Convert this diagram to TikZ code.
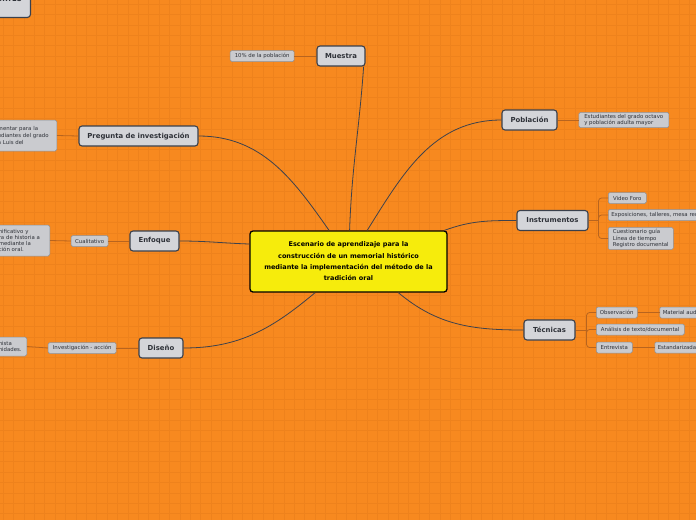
\documentclass[tikz,border=0pt]{standalone}
\usepackage{fontspec}
\setmainfont{DejaVu Sans}
\usepackage{tikz}
\usetikzlibrary{positioning, calc}
\definecolor{bgorange}{HTML}{F7891F}
\definecolor{gridorange}{HTML}{EE821C}
\definecolor{topicyellow}{HTML}{F6EC0C}
\definecolor{ink}{HTML}{2E3138}
\definecolor{navydk}{HTML}{3A404C}
\definecolor{nodegray}{HTML}{D4D5D9}
\definecolor{subgray}{HTML}{CACBCF}
\definecolor{subline}{HTML}{8E9096}
\definecolor{branchgray}{HTML}{3E424C}
\definecolor{twigbrown}{HTML}{B8641E}
\tikzset{
  topic/.style={rounded corners=3pt, draw=black, line width=1.3pt,
    fill=topicyellow, text=black, font=\bfseries\fontsize{6.5}{11.3}\selectfont,
    align=center, minimum width=197pt, minimum height=61pt},
  mainnd/.style={rounded corners=3pt, draw=navydk, line width=1.1pt,
    fill=nodegray, text=ink, font=\bfseries\fontsize{6.9}{8}\selectfont,
    minimum height=20pt, inner xsep=2pt},
  subnd/.style={rounded corners=1.5pt, draw=subline, line width=0.5pt,
    fill=subgray, text=ink, font=\fontsize{5.4}{6.8}\selectfont,
    align=left, minimum height=11pt, inner xsep=3pt, inner ysep=1.6pt},
  branch/.style={line width=0.8pt, color=branchgray},
  twig/.style={line width=0.8pt, color=twigbrown},
}

\begin{document}
\begin{tikzpicture}[x=1pt, y=-1pt]
  \useasboundingbox (0,0) rectangle (696,520);
  \clip (0,0) rectangle (696,520);
  \fill[bgorange] (0,0) rectangle (696,520);
  \foreach \gx in {3,13.4,...,696} \draw[gridorange, line width=0.45pt] (\gx,0) -- (\gx,520);
  \foreach \gy in {4,14.4,...,520} \draw[gridorange, line width=0.45pt] (0,\gy) -- (696,\gy);

  % central topic
  \node[topic] (topic) at (348.5,261.5) {Escenario de aprendizaje para la\\
    construcción de un memorial histórico\\
    mediante la implementación del método de la\\
    tradición oral};

  % main branches
  \node[mainnd, minimum width=48pt] (muestra) at (341,56) {Muestra};
  \node[mainnd, minimum width=119pt] (pregunta) at (138.5,136) {Pregunta de investigación};
  \node[mainnd, minimum width=49pt] (enfoque) at (154.5,241) {Enfoque};
  \node[mainnd, minimum width=44pt] (diseno) at (161,348) {Diseño};
  \node[mainnd, minimum width=55pt] (poblacion) at (529.5,120) {Población};
  \node[mainnd, minimum width=71pt] (instrumentos) at (552.5,220.5) {Instrumentos};
  \node[mainnd, minimum width=51pt] (tecnicas) at (549.5,330) {Técnicas};
  \node[mainnd, minimum width=53pt, minimum height=36pt, anchor=south east] (aportes) at (31,18) {APORTES};

  % sub topics
  \node[subnd, minimum width=64pt, left=22pt of muestra] (pct) {10\% de la población};
  \node[subnd, anchor=east, text width=56pt, minimum height=31pt] (preg-note) at (57,135.5)
    {mentar para la\\ udiantes del grado\\ n Luis del};
  \node[subnd, minimum width=37pt, left=21pt of enfoque] (cualit) {Cualitativo};
  \node[subnd, anchor=east, text width=48pt, minimum height=31pt,
    font=\fontsize{5.4}{5.9}\selectfont] (enf-note) at (50,240.5)
    {nificativo y\\ ra de historia a\\ mediante la\\ ción oral.};
  \node[subnd, minimum width=68pt, left=22pt of diseno] (invac) {Investigación - acción};
  \node[subnd, anchor=east, text width=26pt, minimum height=19pt, inner xsep=2pt] (dis-note) at (27,346.5)
    {nista\\ nidades.};
  \node[subnd, minimum width=90pt, right=21pt of poblacion] (estud)
    {Estudiantes del grado octavo\\ y población adulta mayor};
  \node[subnd, minimum width=38pt, anchor=west] (video) at (608,198) {Video Foro};
  \node[subnd, anchor=west] (expos) at (608,215) {Exposiciones, talleres, mesa redonda};
  \node[subnd, minimum width=65pt, anchor=west] (cuest) at (608,238.5)
    {Cuestionario guía\\ Línea de tiempo\\ Registro documental};
  \node[subnd, minimum width=41pt, anchor=west] (obs) at (596,312.5) {Observación};
  \node[subnd, anchor=west, right=22pt of obs] (material) {Material audiovisual};
  \node[subnd, minimum width=88pt, anchor=west] (analisis) at (596,329.5) {Análisis de texto/documental};
  \node[subnd, minimum width=36pt, anchor=west] (entrev) at (596,347.5) {Entrevista};
  \node[subnd, anchor=west, right=22pt of entrev] (estand) {Estandarizada};

  % branches from the topic
  \draw[branch] (topic.88) to[out=88, in=-94] (muestra.-25);
  \draw[branch] (topic.59) to[out=58, in=180] (poblacion.west);
  \draw[branch] (topic.18) to[out=20, in=180] (instrumentos.west);
  \draw[branch] (topic.-32) to[out=-40, in=180] (tecnicas.west);
  \draw[branch] (topic.122) to[out=125, in=0] (pregunta.east);
  \draw[branch] (topic.170) to[out=178, in=0] (enfoque.east);
  \draw[branch] (topic.-137) to[out=-140, in=0] (diseno.east);

  % twigs
  \draw[twig] (muestra.west) -- (pct.east);
  \draw[twig] (pregunta.west) -- (preg-note.east);
  \draw[twig] (enfoque.west) -- (cualit.east);
  \draw[twig] (cualit.west) -- (enf-note.east);
  \draw[twig] (diseno.west) -- (invac.east);
  \draw[twig] (invac.west) -- (dis-note.east);
  \draw[twig] (poblacion.east) -- (estud.west);
  \coordinate (instr-fork) at ($(instrumentos.east)+(10,0)$);
  \coordinate (tec-fork) at ($(tecnicas.east)+(11,0)$);
  \draw[twig] (instrumentos.east) -- (instr-fork);
  \draw[twig, rounded corners=3pt] (instr-fork) |- (video.west);
  \draw[twig, rounded corners=3pt] (instr-fork) |- (expos.west);
  \draw[twig, rounded corners=3pt] (instr-fork) |- (cuest.west);
  \draw[twig] (tecnicas.east) -- (tec-fork);
  \draw[twig, rounded corners=3pt] (tec-fork) |- (obs.west);
  \draw[twig, rounded corners=3pt] (tec-fork) |- (analisis.west);
  \draw[twig, rounded corners=3pt] (tec-fork) |- (entrev.west);
  \draw[twig] (obs.east) -- (material.west);
  \draw[twig] (entrev.east) -- (estand.west);
\end{tikzpicture}
\end{document}
